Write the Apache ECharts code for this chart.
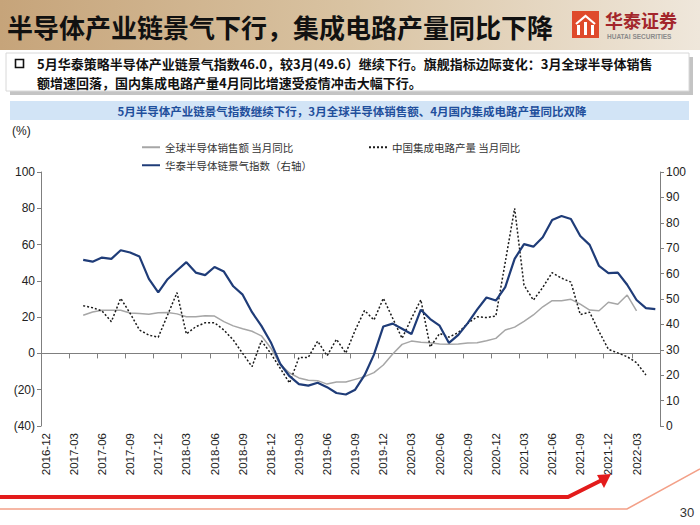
<!DOCTYPE html>
<html>
<head>
<meta charset="utf-8">
<script src="https://cdn.jsdelivr.net/npm/echarts@6/dist/echarts.min.js"></script>
<style>
html,body{margin:0;padding:0;background:#fff;}
#main{width:700px;height:525px;}
</style>
</head>
<body>
<div id="main"></div>
<script>
// ---- categories (monthly, 2016-12 .. 2022-05) ----
const categories = [
  "2016-12",
  "2017-01","2017-02","2017-03","2017-04","2017-05","2017-06","2017-07","2017-08","2017-09","2017-10","2017-11","2017-12",
  "2018-01","2018-02","2018-03","2018-04","2018-05","2018-06","2018-07","2018-08","2018-09","2018-10","2018-11","2018-12",
  "2019-01","2019-02","2019-03","2019-04","2019-05","2019-06","2019-07","2019-08","2019-09","2019-10","2019-11","2019-12",
  "2020-01","2020-02","2020-03","2020-04","2020-05","2020-06","2020-07","2020-08","2020-09","2020-10","2020-11","2020-12",
  "2021-01","2021-02","2021-03","2021-04","2021-05","2021-06","2021-07","2021-08","2021-09","2021-10","2021-11","2021-12",
  "2022-01","2022-02","2022-03","2022-04","2022-05"
];
const seriesStart = "2017-04";

// 全球半导体销售额 当月同比 (%), 2017-04 .. 2022-03
const globalSales = [
  21.0, 22.8, 23.8, 23.8, 23.8, 22.3, 22.0, 21.6, 22.4, 22.5,
  21.8, 20.2, 20.2, 20.8, 20.6, 17.5, 15.2, 13.6, 12.2, 9.7,
  3.0, -6.0, -10.8, -13.5, -14.8, -15.0, -16.9, -15.7, -15.8, -14.3,
  -12.8, -10.6, -6.4, -0.3, 5.0, 6.8, 6.1, 5.9, 5.2, 5.0,
  5.2, 5.7, 5.9, 7.0, 8.3, 12.9, 14.5, 17.7, 21.2, 25.7,
  29.1, 29.1, 29.8, 27.2, 23.9, 23.5, 28.2, 27.1, 32.2, 23.4
];

// 中国集成电路产量 当月同比 (%), 2017-04 .. 2022-04 (January not published)
const chinaIC = [
  26.3, 25.2, 23.4, 17.5, 30.4, 22.1, 12.9, 10.1, 8.9, null,
  33.5, 10.7, 14.7, 16.9, 16.9, 12.9, 7.4, 0.0, -7.3, 7.0,
  0.0, null, -16.3, -2.3, -2.2, 6.8, -1.3, 7.8, 0.2, 12.8,
  23.7, 18.4, 30.4, null, 8.3, 19.3, 29.6, 3.5, 11.0, 9.0,
  11.5, 16.6, 20.2, 19.8, 20.6, null, 80.0, 37.6, 29.4, 36.4,
  44.5, 41.5, 39.3, 21.4, 22.7, 12.0, 2.3, null, -1.8, -5.1,
  -11.9
];

// 华泰半导体链景气指数 (右轴), 2017-04 .. 2022-05
const huataiIndex = [
  65.4, 64.7, 66.3, 65.8, 69.2, 68.3, 66.7, 57.9, 52.6, 57.8,
  61.2, 64.5, 60.4, 59.4, 62.6, 60.8, 55.0, 51.7, 44.8, 39.4,
  33.0, 24.5, 19.6, 16.5, 15.9, 17.0, 15.3, 13.0, 12.4, 14.3,
  20.0, 28.1, 39.2, 40.3, 38.3, 36.2, 45.8, 42.1, 39.5, 32.7,
  35.9, 40.5, 45.8, 50.6, 49.4, 54.7, 65.8, 71.6, 70.6, 74.3,
  81.1, 82.7, 81.5, 74.8, 71.3, 63.0, 60.2, 60.4, 55.6, 49.6,
  46.4, 46.0
];

const leftTicks = { min: -40, max: 100, interval: 20 };
const rightTicks = { min: 0, max: 100, interval: 10 };

const seriesNames = ["全球半导体销售额 当月同比", "中国集成电路产量 当月同比", "华泰半导体链景气指数（右轴）"];

const titleText = "半导体产业链景气下行，集成电路产量同比下降";
const bulletLine1 = "5月华泰策略半导体产业链景气指数46.0，较3月(49.6）继续下行。旗舰指标边际变化：3月全球半导体销售";
const bulletLine2 = "额增速回落，国内集成电路产量4月同比增速受疫情冲击大幅下行。";
const subtitleText = "5月半导体产业链景气指数继续下行，3月全球半导体销售额、4月国内集成电路产量同比双降";

function toPairs(values) {
  const s = categories.indexOf(seriesStart);
  return values.map((v, k) => [categories[s + k], v]);
}

const CJK = '"Noto Sans CJK SC", "Noto Sans", sans-serif';
const LAT = '"Liberation Sans", Arial, sans-serif';

const chart = echarts.init(document.getElementById('main'), null, { renderer: 'svg' });

const legendBase = {
  itemWidth: 18, itemHeight: 10, itemGap: 5,
  itemStyle: { opacity: 0, borderWidth: 0 },
  textStyle: { fontFamily: CJK, fontSize: 10.5, color: '#333' }
};

const option = {
  backgroundColor: '#ffffff',
  animation: false,
  grid: { left: 41, right: 40, top: 172, bottom: 99, containLabel: false },
  legend: [
    Object.assign({ data: [seriesNames[0]], left: 136, top: 137 }, legendBase),
    Object.assign({ data: [seriesNames[1]], left: 363, top: 137 }, legendBase),
    Object.assign({ data: [seriesNames[2]], left: 136, top: 155 }, legendBase)
  ],
  xAxis: [
    {
      type: 'category', data: categories, boundaryGap: true, position: 'bottom',
      axisLine: { show: false, onZero: false },
      axisTick: { show: false },
      axisLabel: { interval: 2, rotate: 90, margin: 7, fontFamily: LAT, fontSize: 11.5, color: '#222' },
      splitLine: { show: false }
    },
    {
      type: 'category', data: categories, boundaryGap: true, position: 'bottom',
      axisLine: { show: true, onZero: true, onZeroAxisIndex: 0, lineStyle: { color: '#7f7f7f', width: 1 } },
      axisTick: { show: true, interval: 2, length: 5, lineStyle: { color: '#7f7f7f' } },
      axisLabel: { show: false },
      splitLine: { show: false }
    }
  ],
  yAxis: [
    {
      type: 'value', position: 'left', min: leftTicks.min, max: leftTicks.max, interval: leftTicks.interval,
      axisLine: { show: true, lineStyle: { color: '#7f7f7f' } },
      axisTick: { show: true, length: 4, lineStyle: { color: '#7f7f7f' } },
      splitLine: { show: false },
      axisLabel: { margin: 6, fontFamily: LAT, fontSize: 12, color: '#222',
        formatter: v => v < 0 ? '(' + Math.abs(v) + ')' : String(v) }
    },
    {
      type: 'value', position: 'right', min: rightTicks.min, max: rightTicks.max, interval: rightTicks.interval,
      axisLine: { show: true, lineStyle: { color: '#7f7f7f' } },
      axisTick: { show: true, length: 4, lineStyle: { color: '#7f7f7f' } },
      splitLine: { show: false },
      axisLabel: { margin: 6, fontFamily: LAT, fontSize: 12, color: '#222' }
    }
  ],
  series: [
    {
      name: seriesNames[0], type: 'line', xAxisIndex: 0, yAxisIndex: 0,
      data: toPairs(globalSales), symbol: 'none', smooth: false,
      lineStyle: { color: '#a6a6a6', width: 1.5 }, itemStyle: { color: '#a6a6a6' }, z: 2
    },
    {
      name: seriesNames[1], type: 'line', xAxisIndex: 0, yAxisIndex: 0,
      data: toPairs(chinaIC), symbol: 'none', connectNulls: true,
      lineStyle: { color: '#1a1a1a', width: 1.5, type: [2, 2] }, itemStyle: { color: '#1a1a1a' }, z: 3
    },
    {
      name: seriesNames[2], type: 'line', xAxisIndex: 0, yAxisIndex: 1,
      data: toPairs(huataiIndex), symbol: 'none',
      lineStyle: { color: '#1f3c78', width: 2.2 }, itemStyle: { color: '#1f3c78' }, z: 4
    }
  ],
  graphic: [
    // header band
    { type: 'rect', z: 0, silent: true,
      shape: { x: 0, y: 0, width: 700, height: 50 },
      style: { fill: new echarts.graphic.LinearGradient(0, 0, 1, 0, [
        { offset: 0, color: '#c6a47a' }, { offset: 0.5, color: '#d9c3a2' }, { offset: 1, color: '#efe7db' }]) } },
    { type: 'text', z: 10, silent: true, x: 7, y: 26,
      style: { text: titleText, font: 'bold 26px ' + CJK, fill: '#111', verticalAlign: 'middle' } },
    // logo
    { type: 'group', x: 572, y: 11, z: 10, silent: true, children: [
      { type: 'rect', shape: { x: 0, y: 0, width: 27, height: 27 }, style: { fill: '#df4a2b' } },
      { type: 'polyline', shape: { points: [[4, 13], [13.5, 5], [23, 13]] }, style: { stroke: '#fff', lineWidth: 2.2, fill: null } },
      { type: 'rect', shape: { x: 5, y: 14, width: 3, height: 10 }, style: { fill: '#fff' } },
      { type: 'rect', shape: { x: 12, y: 11, width: 3, height: 13 }, style: { fill: '#fff' } },
      { type: 'rect', shape: { x: 19, y: 14, width: 3, height: 10 }, style: { fill: '#fff' } }
    ] },
    { type: 'text', z: 10, silent: true, x: 605, y: 20,
      style: { text: '华泰证券', font: 'bold 18px ' + CJK, fill: '#a3262b', verticalAlign: 'middle' } },
    { type: 'text', z: 10, silent: true, x: 607, y: 36,
      style: { text: 'HUATAI SECURITIES', font: 'bold 6.5px ' + LAT, fill: '#8a8a8a', verticalAlign: 'middle' } },
    // bullet box
    { type: 'rect', z: 1, silent: true, shape: { x: 10, y: 57, width: 683, height: 38 }, style: { fill: '#c4c4c4' } },
    { type: 'rect', z: 2, silent: true, shape: { x: 6, y: 53, width: 683, height: 38 }, style: { fill: '#fff', stroke: '#d8d8d8', lineWidth: 1 } },
    { type: 'rect', z: 3, silent: true, shape: { x: 15.5, y: 59.5, width: 8, height: 8 }, style: { fill: null, stroke: '#111', lineWidth: 1.6 } },
    { type: 'text', z: 3, silent: true, x: 37, y: 63,
      style: { text: bulletLine1, font: 'bold 13px ' + CJK, fill: '#111', verticalAlign: 'middle' } },
    { type: 'text', z: 3, silent: true, x: 37, y: 82,
      style: { text: bulletLine2, font: 'bold 13px ' + CJK, fill: '#111', verticalAlign: 'middle' } },
    // subtitle band
    { type: 'rect', z: 1, silent: true, shape: { x: 10, y: 101, width: 679, height: 19 }, style: { fill: '#d2e4f6' } },
    { type: 'text', z: 3, silent: true, x: 352, y: 110.5,
      style: { text: subtitleText, font: 'bold 11.5px ' + CJK, fill: '#1f4f9c', align: 'center', verticalAlign: 'middle' } },
    // unit
    { type: 'text', z: 3, silent: true, x: 12, y: 131,
      style: { text: '(%)', font: '12px ' + LAT, fill: '#222', verticalAlign: 'middle' } },
    // footer
    { type: 'polyline', z: 3, silent: true, shape: { points: [[0, 509], [627, 509], [700, 469]] },
      style: { stroke: '#f3a088', lineWidth: 1.5, fill: null } },
    { type: 'polyline', z: 4, silent: true, shape: { points: [[0, 497], [568, 497], [602, 480]] },
      style: { stroke: '#e31b1b', lineWidth: 4, fill: null } },
    { type: 'polygon', z: 4, silent: true, shape: { points: [[611, 474], [597, 475], [604, 488]] },
      style: { fill: '#e31b1b' } },
    { type: 'text', z: 4, silent: true, x: 687, y: 512,
      style: { text: '30', font: '13px ' + LAT, fill: '#333', align: 'center', verticalAlign: 'middle' } }
  ]
};

chart.setOption(option);
</script>
</body>
</html>
